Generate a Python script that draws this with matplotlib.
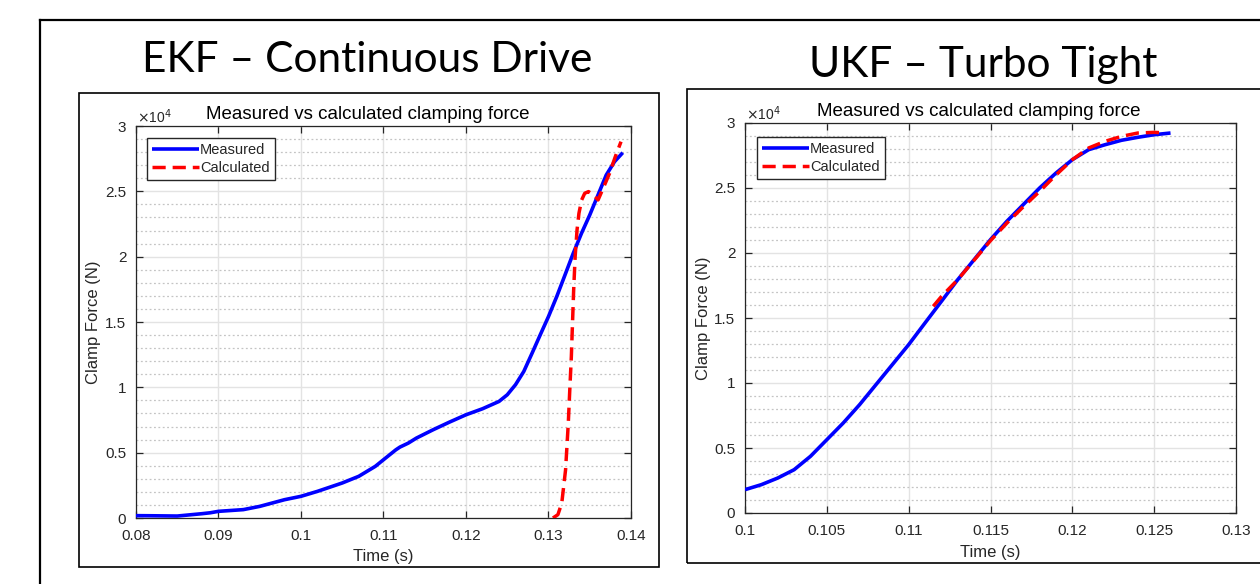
import matplotlib
matplotlib.use("Agg")
import matplotlib.pyplot as plt
from matplotlib.lines import Line2D
from matplotlib.patches import Rectangle
from matplotlib.ticker import MultipleLocator, FixedLocator

# ---------------- data ----------------
panel_titles = ["EKF – Continuous Drive", "UKF – Turbo Tight"]
axes_title = "Measured vs calculated clamping force"
series_names = ["Measured", "Calculated"]

# EKF - Continuous Drive
ekf_t_meas = [0.080, 0.082, 0.085, 0.088, 0.089, 0.090, 0.093, 0.095, 0.098, 0.100,
              0.102, 0.105, 0.107, 0.109, 0.110, 0.1115, 0.112, 0.113, 0.114, 0.116,
              0.118, 0.120, 0.122, 0.124, 0.125, 0.126, 0.127, 0.128, 0.129, 0.130,
              0.131, 0.132, 0.133, 0.134, 0.135, 0.136, 0.137, 0.138, 0.139]
ekf_f_meas = [180, 170, 150, 330, 400, 510, 640, 890, 1400, 1660,
              2040, 2680, 3190, 3950, 4460, 5220, 5430, 5730, 6120, 6750,
              7340, 7900, 8360, 8920, 9430, 10200, 11210, 12600, 14020, 15420,
              16950, 18600, 20260, 21790, 23190, 24720, 26250, 27270, 27960]
ekf_t_calc = [0.13054, 0.13114, 0.13161, 0.13207, 0.13240, 0.13258, 0.13277, 0.13291,
              0.13305, 0.13323, 0.13346, 0.13369, 0.13402, 0.13439, 0.13485, 0.13546,
              0.13601, 0.13671, 0.13740, 0.13810, 0.13879]
ekf_f_calc = [0, 255, 1147, 3696, 7264, 9813, 12362, 14910,
              17460, 20008, 22047, 23322, 24341, 24851, 24979, 24724,
              24341, 25361, 26381, 27655, 28802]

# UKF - Turbo Tight
ukf_t_meas = [0.100, 0.101, 0.102, 0.103, 0.104, 0.105, 0.106, 0.107, 0.108, 0.109,
              0.110, 0.111, 0.112, 0.113, 0.114, 0.115, 0.116, 0.117, 0.118, 0.119,
              0.120, 0.121, 0.122, 0.123, 0.124, 0.125, 0.126]
ukf_f_meas = [1795, 2180, 2690, 3330, 4360, 5640, 6920, 8330, 9870, 11410,
              12950, 14620, 16280, 17950, 19490, 21030, 22440, 23720, 25000, 26150,
              27180, 27950, 28330, 28670, 28900, 29100, 29230]
ukf_t_calc = [0.1115, 0.112, 0.113, 0.114, 0.115, 0.116, 0.117, 0.118, 0.119, 0.120,
              0.121, 0.122, 0.123, 0.124, 0.125, 0.1255]
ukf_f_calc = [15900, 16650, 17950, 19450, 20950, 22300, 23550, 24740, 26000, 27180,
              28080, 28590, 28970, 29230, 29280, 29250]

ekf_xticks = [0.08, 0.09, 0.10, 0.11, 0.12, 0.13, 0.14]
ekf_xlabels = ["0.08", "0.09", "0.1", "0.11", "0.12", "0.13", "0.14"]
ukf_xticks = [0.100, 0.105, 0.110, 0.115, 0.120, 0.125, 0.130]
ukf_xlabels = ["0.1", "0.105", "0.11", "0.115", "0.12", "0.125", "0.13"]
yticks = [0, 5000, 10000, 15000, 20000, 25000, 30000]
ylabels = ["0", "0.5", "1", "1.5", "2", "2.5", "3"]

# ---------------- figure ----------------
W, H = 1260, 584
fig = plt.figure(figsize=(W / 100, H / 100), dpi=100)
fig.patch.set_facecolor("white")

def fx(px):
    return px / W

def fy(py):
    return 1 - py / H

tick_font = "Liberation Sans"
title_font = ["Lato", "DejaVu Sans"]
dark = "#262626"

# slide outer border
fig.add_artist(Line2D([fx(40), fx(40)], [fy(20), fy(584)], color="black", lw=1.6))
fig.add_artist(Line2D([fx(40), fx(1260)], [fy(20), fy(20)], color="black", lw=1.6))

# panel frames
fig.add_artist(Rectangle((fx(79), fy(567)), fx(659) - fx(79), fy(93) - fy(567),
                         fill=False, edgecolor="black", lw=1.2))
fig.add_artist(Rectangle((fx(687), fy(563)), fx(1300) - fx(687), fy(89) - fy(563),
                         fill=False, edgecolor="black", lw=1.2))

# slide titles
fig.text(fx(367), fy(72), panel_titles[0], ha="center", va="baseline",
         fontsize=30.5, family=title_font, color="black")
fig.text(fx(983), fy(77), panel_titles[1], ha="center", va="baseline",
         fontsize=30.5, family=title_font, color="black")

panels = [
    dict(rect=(136, 631, 126, 518), xlim=(0.08, 0.14), xt=ekf_xticks, xl=ekf_xlabels,
         tm=ekf_t_meas, fm=ekf_f_meas, tc=ekf_t_calc, fc=ekf_f_calc,
         title_x=368, title_y=119, exp_x=137, exp_y=123, leg=(147, 138),
         ylab_x=101, xlab_y=549),
    dict(rect=(745, 1236, 123, 513), xlim=(0.10, 0.13), xt=ukf_xticks, xl=ukf_xlabels,
         tm=ukf_t_meas, fm=ukf_f_meas, tc=ukf_t_calc, fc=ukf_f_calc,
         title_x=979, title_y=116, exp_x=746, exp_y=120, leg=(757, 137),
         ylab_x=711, xlab_y=545),
]

for p in panels:
    l, r, t, b = p["rect"]
    ax = fig.add_axes([fx(l), fy(b), fx(r) - fx(l), fy(t) - fy(b)])
    ax.set_xlim(*p["xlim"])
    ax.set_ylim(0, 30000)
    ax.set_axisbelow(True)

    ax.plot(p["tm"], p["fm"], color="#0000ff", lw=2.6, label=series_names[0],
            solid_capstyle="butt", solid_joinstyle="round", zorder=3)
    ax.plot(p["tc"], p["fc"], color="#ff0000", lw=2.5, linestyle=(0, (3.8, 2.0)),
            label=series_names[1], zorder=4)

    ax.xaxis.set_major_locator(FixedLocator(p["xt"]))
    ax.set_xticklabels(p["xl"])
    ax.yaxis.set_major_locator(FixedLocator(yticks))
    ax.set_yticklabels(ylabels)
    ax.yaxis.set_minor_locator(MultipleLocator(1000))

    ax.grid(True, which="major", color="#e3e3e3", lw=1.0, linestyle="-")
    ax.grid(True, which="minor", axis="y", color="#c4c4c4", lw=0.9,
            linestyle=(0, (1.5, 2.0)))
    ax.tick_params(which="major", direction="in", top=True, right=True, length=5,
                   width=0.9, color=dark, labelsize=11, labelcolor=dark)
    ax.tick_params(axis="x", which="major", pad=8)
    ax.tick_params(axis="y", which="major", pad=7)
    ax.tick_params(which="minor", length=0, top=True, right=True)
    for lab in ax.get_xticklabels() + ax.get_yticklabels():
        lab.set_family(tick_font)
    for s in ax.spines.values():
        s.set_color(dark)
        s.set_linewidth(0.9)

    ax.set_xlabel("Time (s)", fontsize=12, family=tick_font, color=dark)
    ax.set_ylabel("Clamp Force (N)", fontsize=12, family=tick_font, color=dark)
    ax.xaxis.set_label_coords((((l + r) / 2) - l) / (r - l), (b - p["xlab_y"]) / (b - t))
    ax.yaxis.set_label_coords((p["ylab_x"] - l) / (r - l), 0.5)

    fig.text(fx(p["title_x"]), fy(p["title_y"]), axes_title, ha="center", va="baseline",
             fontsize=13.5, family=tick_font, color="black")
    fig.text(fx(p["exp_x"]), fy(p["exp_y"]), r"$\times$10$^4$", ha="left", va="baseline",
             fontsize=10, family=tick_font, color=dark)

    lx, ly = p["leg"]
    leg = ax.legend(loc="upper left", bbox_to_anchor=((lx - l) / (r - l), (b - ly) / (b - t)),
                    borderaxespad=0, frameon=True, fancybox=False, shadow=False,
                    prop={"family": tick_font, "size": 10.5}, handlelength=3.2,
                    handletextpad=0.1, labelspacing=0.25, borderpad=0.35)
    leg.get_frame().set_edgecolor(dark)
    leg.get_frame().set_linewidth(1.0)
    leg.get_frame().set_alpha(1)
    for txt in leg.get_texts():
        txt.set_color(dark)

fig.savefig("out.png", dpi=100)
